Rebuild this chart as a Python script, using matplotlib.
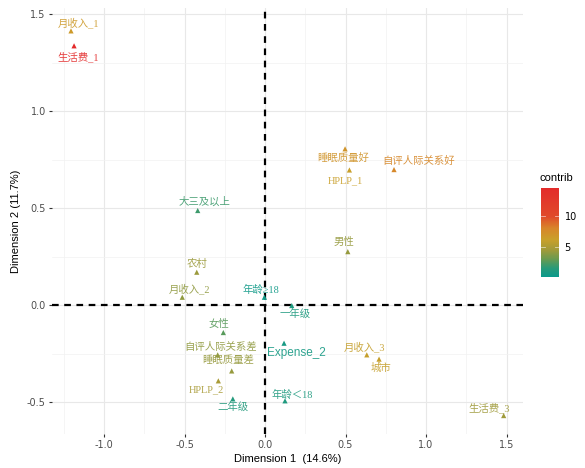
import numpy as np
import matplotlib
matplotlib.use("Agg")
import matplotlib.pyplot as plt
from matplotlib.colors import LinearSegmentedColormap, Normalize
from matplotlib.cm import ScalarMappable

# category coordinates on the first two dimensions, with contribution
labels = ['月收入_1', '生活费_1', '大三及以上', '睡眠质量好', 'HPLP_1', '自评人际关系好',
          '男性', '农村', '月收入_2', '年龄≥18', '一年级', '女性', '自评人际关系差',
          '睡眠质量差', 'HPLP_2', '二年级', 'Expense_2', '年龄＜18', '月收入_3', '城市',
          '生活费_3']
dim1 = [-1.205, -1.186, -0.418, 0.497, 0.524, 0.801, 0.514, -0.424, -0.514, -0.004,
        0.166, -0.259, -0.294, -0.207, -0.290, -0.200, 0.118, 0.124, 0.632, 0.708, 1.482]
dim2 = [1.415, 1.338, 0.489, 0.807, 0.698, 0.700, 0.277, 0.171, 0.042, 0.042,
        -0.001, -0.140, -0.255, -0.338, -0.389, -0.482, -0.195, -0.492, -0.255, -0.277, -0.568]
contrib = [6.6, 14.5, 2.0, 7.0, 6.2, 7.8, 4.2, 4.3, 4.0, 0.4,
           1.0, 2.6, 4.0, 4.2, 4.8, 1.3, 0.7, 1.1, 6.0, 6.0, 4.4]

# label offsets in pixels (dx right, dy down), repel-style placement
offsets = [(7, -8), (4, 11), (7, -9), (-2, 9), (-4, 11), (25, -9),
           (-4, -10), (0, -8), (7, -8), (-4, -8), (3, 8), (-4, -9), (3, -8),
           (-4, -11), (-12, 9), (0, 8), (12, 10), (7, -6), (-2, -8), (2, 9),
           (-14, -8)]

cmap = LinearSegmentedColormap.from_list('contrib', [
    (0.0, '#0a9a8c'), (0.1, '#2a9a78'), (0.2, '#6a9a50'), (0.3, '#a09a3a'),
    (0.42, '#c9a02a'), (0.55, '#d8852a'), (0.68, '#e04a2a'), (1.0, '#e32b2b')])
norm = Normalize(vmin=0.1, vmax=14.5)

W, H = 585, 468
fig = plt.figure(figsize=(W / 100, H / 100), dpi=100)
ax = fig.add_axes([52 / W, (H - 434) / H, (523 - 52) / W, (434 - 8) / H])

ax.set_xlim(-1.323, 1.602)
ax.set_ylim(-0.663, 1.533)

ax.set_xticks([-1.0, -0.5, 0.0, 0.5, 1.0, 1.5])
ax.set_yticks([-0.5, 0.0, 0.5, 1.0, 1.5])
ax.set_xticks(np.arange(-1.25, 1.6, 0.5), minor=True)
ax.set_yticks(np.arange(-0.25, 1.5, 0.5), minor=True)
ax.grid(which='major', color='#e8e8e8', lw=0.8)
ax.grid(which='minor', color='#f2f2f2', lw=0.5)
ax.set_axisbelow(True)
for s in ax.spines.values():
    s.set_visible(False)
ax.tick_params(which='major', length=2.5, color='#333333', labelsize=7,
               labelcolor='#4d4d4d', pad=2)
ax.tick_params(which='minor', length=0)
ax.set_xticklabels(['-1.0', '-0.5', '0.0', '0.5', '1.0', '1.5'])
ax.set_yticklabels(['-0.5', '0.0', '0.5', '1.0', '1.5'])

ax.axhline(0, color='black', lw=1.6, ls=(0, (3, 2.5)), zorder=2)
ax.axvline(0, color='black', lw=1.6, ls=(0, (3, 2.5)), zorder=2)

ax.scatter(dim1, dim2, c=contrib, cmap=cmap, norm=norm, marker='^', s=14,
           edgecolors='none', zorder=3)

for lab, x, y, c, (dx, dy) in zip(labels, dim1, dim2, contrib, offsets):
    if lab == 'Expense_2':
        fam, fs = ['Liberation Sans'], 8.5
    else:
        fam, fs = ['Liberation Serif', 'Noto Sans CJK SC'], 7.5
    ax.annotate(lab, (x, y), xytext=(dx * 0.72, -dy * 0.72), textcoords='offset points',
                ha='center', va='center', color=cmap(norm(c)), fontsize=fs,
                family=fam, alpha=0.9, zorder=4)

ax.set_xlabel('Dimension 1  (14.6%)', fontsize=8, family='Liberation Sans', labelpad=3)
ax.set_ylabel('Dimension 2 (11.7%)', fontsize=8, family='Liberation Sans', labelpad=4)

cax = fig.add_axes([541 / W, (H - 277) / H, 18 / W, 89 / H])
cb = fig.colorbar(ScalarMappable(norm=norm, cmap=cmap), cax=cax, ticks=[5, 10])
cb.outline.set_visible(False)
cax.tick_params(length=0, labelsize=7, pad=4)
for t in [5, 10]:
    cax.plot([0, 0.2], [t, t], color='white', lw=0.6, alpha=0.6)
    cax.plot([0.8, 1], [t, t], color='white', lw=0.6, alpha=0.6)
cax.set_xlim(0, 1)
fig.text(556 / W, 1 - 178 / H, 'contrib', ha='center', va='center', fontsize=8,
         family='Liberation Sans')

fig.savefig('out.png', dpi=100)
